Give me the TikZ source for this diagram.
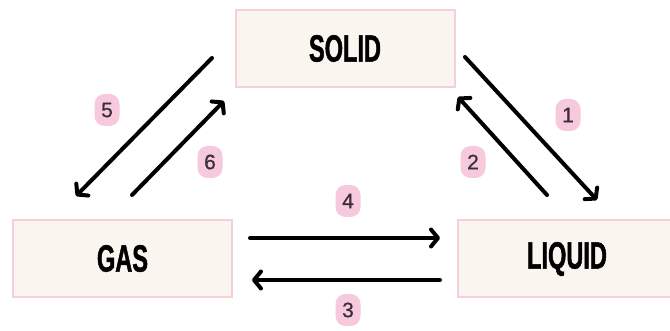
\documentclass[tikz,border=0pt]{standalone}
\usepackage{fontspec}
\usetikzlibrary{arrows.meta}
\newfontfamily\boxfont[FakeStretch=0.62,FakeBold=1.2]{Liberation Sans Bold}
\newfontfamily\numfont[FakeBold=0.6]{Liberation Sans}
\definecolor{boxfill}{HTML}{FAF5EF}
\definecolor{boxedge}{HTML}{F6CEDC}
\definecolor{tagfill}{HTML}{F7C9DD}
\definecolor{tagtext}{HTML}{3A2C3A}
\tikzset{
  statebox/.style={draw=boxedge, line width=2pt, fill=boxfill, inner sep=0pt,
    minimum width=219pt, minimum height=77pt, font=\boxfont\fontsize{38}{38}\selectfont, text=black},
  tag/.style={fill=tagfill, rounded corners=10pt, inner sep=0pt, minimum width=25pt,
    minimum height=32pt, font=\numfont\fontsize{21}{21}\selectfont, text=tagtext},
  flow/.style={line width=4pt, line cap=round, -{Straight Barb[length=7pt,width=17pt,line cap=round,line join=round]}}
}
\begin{document}
\begin{tikzpicture}[x=1pt,y=-1pt]
\useasboundingbox (0,0) rectangle (670,331);
\clip (0,0) rectangle (670,331);
\fill[white] (0,0) rectangle (670,331);
\node[statebox] (solid) at (345,48.5) {\raisebox{-6pt}{SOLID}};
\node[statebox] (gas) at (122.5,258.5) {GAS};
\node[statebox, minimum width=218pt] (liquid) at (567,259) {LIQUID};
% arrow end points
\coordinate (a1s) at (465,57);   \coordinate (a1e) at (597,200);
\coordinate (a2s) at (547,195);  \coordinate (a2e) at (458,97);
\coordinate (a3s) at (440,280);  \coordinate (a3e) at (252,280);
\coordinate (a4s) at (250,238);  \coordinate (a4e) at (440,238);
\coordinate (a5s) at (212,58);   \coordinate (a5e) at (76,196);
\coordinate (a6s) at (132,195);  \coordinate (a6e) at (224,101);
\draw[flow] (a1s) -- (a1e);
\draw[flow] (a2s) -- (a2e);
\draw[flow] (a3s) -- (a3e);
\draw[flow] (a4s) -- (a4e);
\draw[flow] (a5s) -- (a5e);
\draw[flow] (a6s) -- (a6e);
\node[tag] (t1) at (568,115) {1};
\node[tag] (t2) at (473,162) {2};
\node[tag] (t3) at (348,310) {3};
\node[tag] (t4) at (348,201) {4};
\node[tag] (t5) at (107,110) {5};
\node[tag] (t6) at (210,162) {6};
\end{tikzpicture}
\end{document}
